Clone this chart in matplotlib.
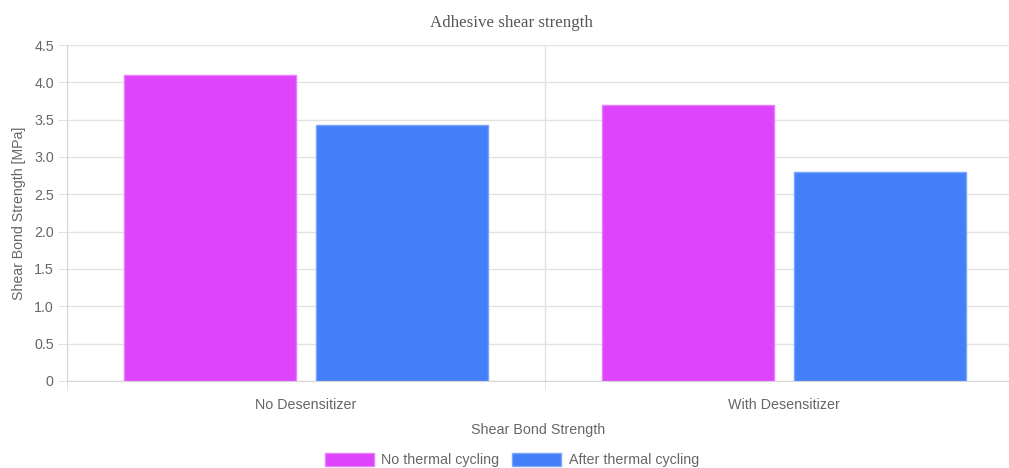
import matplotlib.pyplot as plt
import numpy as np
from matplotlib.patches import Patch

plt.rcParams['font.family'] = ['Liberation Sans', 'DejaVu Sans']

categories = ["No Desensitizer", "With Desensitizer"]
no_cycling = [4.1, 3.7]
after_cycling = [3.43, 2.8]
series_names = ["No thermal cycling", "After thermal cycling"]
colors = ['#dd44fb', '#427ff8']
edge_colors = ['#e77cfc', '#7aa5f9']

W, H = 1009, 468
fig = plt.figure(figsize=(W / 100, H / 100), dpi=100)
ax = fig.add_axes([67 / W, (H - 381) / H, (W - 67) / W, (381 - 45) / H])

xpos = np.arange(len(categories))
width = 0.36
ax.bar(xpos - 0.2, no_cycling, width, color=colors[0], edgecolor=edge_colors[0], linewidth=1, zorder=3)
ax.bar(xpos + 0.2, after_cycling, width, color=colors[1], edgecolor=edge_colors[1], linewidth=1, zorder=3)

yt = np.arange(0, 4.51, 0.5)
ax.set_yticks(yt)
ax.set_yticklabels(['0'] + ['%.1f' % v for v in yt[1:]])
ax.set_xticks(xpos)
ax.set_xticklabels(categories)
ax.set_xticks([-0.5, 0.5], minor=True)

# category axis runs past the right edge of the picture, like the reference
ax.set_xlim(-0.5, (W - 67) / 478 - 0.5)
ax.set_ylim(0, 4.5)

grid_c = '#e2e2e2'
ax.grid(axis='y', color=grid_c, linewidth=1, zorder=0)
ax.grid(axis='x', which='minor', color=grid_c, linewidth=1, zorder=0)
ax.tick_params(axis='y', length=6.5, color=grid_c, labelcolor='#666666', labelsize=10.3, pad=3)
ax.tick_params(axis='x', which='major', length=0, labelcolor='#666666', labelsize=10.3, pad=12)
ax.tick_params(axis='x', which='minor', length=6.5, color=grid_c)

for s in ['top', 'right']:
    ax.spines[s].set_visible(False)
for s in ['left', 'bottom']:
    ax.spines[s].set_color('#d6d6d6')

ax.set_ylabel('Shear Bond Strength [MPa]', color='#666666', fontsize=10.2, labelpad=6)
ax.set_xlabel('Shear Bond Strength', color='#666666', fontsize=10.3, labelpad=8)

fig.text(511 / W, 1 - 23 / H, 'Adhesive shear strength', ha='center', va='center',
         fontsize=12.2, color='#555555', family=['Liberation Serif', 'DejaVu Serif'])

handles = [Patch(facecolor=colors[i], edgecolor=edge_colors[i]) for i in range(2)]
fig.legend(handles, series_names, loc='center', bbox_to_anchor=(512 / W, 1 - 460 / H),
           ncol=2, frameon=False, fontsize=10.3, handlelength=3.4, handleheight=1.0,
           columnspacing=0.9, handletextpad=0.55, labelcolor='#666666',
           borderpad=0, borderaxespad=0)

fig.savefig('out.png', dpi=100)
